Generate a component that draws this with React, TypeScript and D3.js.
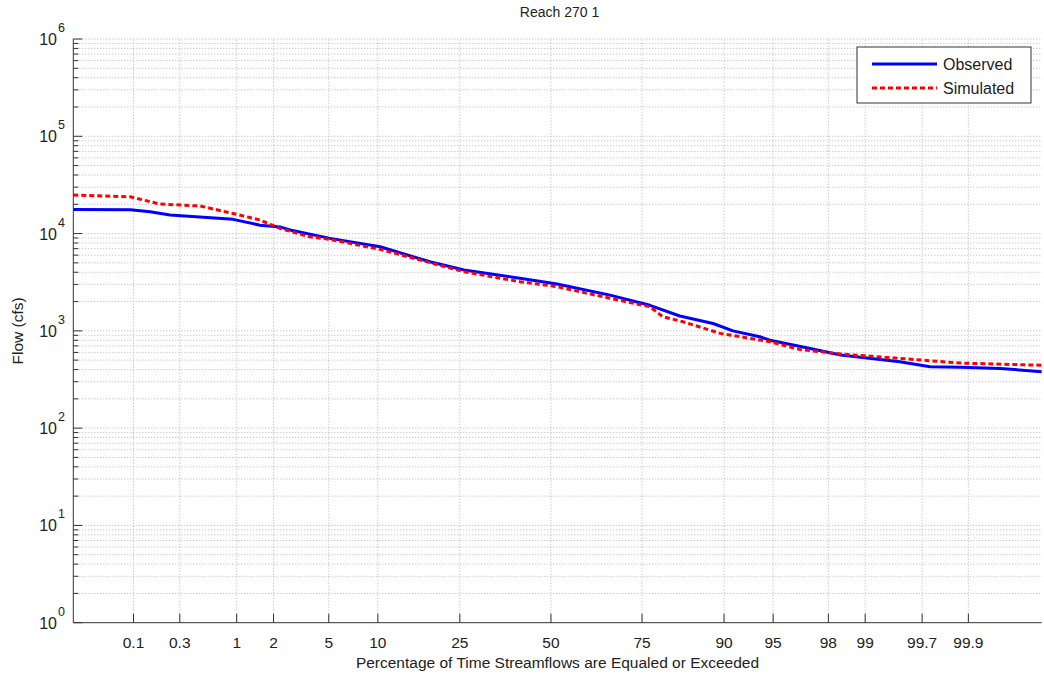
import React from 'react';
import * as d3 from 'd3';

const width = 1044;
const height = 679;
const margin = { top: 39, right: 2.3, bottom: 56.3, left: 73.3 };

// percent of time exceeded, flow (cfs)
const observedPct = [0.0203, 0.092, 0.15, 0.24, 0.93, 1.56, 2.24, 2.67, 5.1, 10.3, 18.5, 26, 40.9, 51.8, 66.9, 76.8, 83, 88.5, 91.1, 93.9, 94.75, 97.2, 98.4, 99.51, 99.75, 99.88, 99.956, 99.986];
const observedFlow = [17700, 17600, 16750, 15500, 14000, 12200, 11700, 10900, 8920, 7310, 5130, 4220, 3470, 3030, 2330, 1830, 1420, 1190, 1000, 870, 800, 661, 564, 481, 428, 422, 411, 380];

const simulatedPct = [0.0203, 0.092, 0.19, 0.47, 0.93, 1.56, 2.24, 3.7, 5.1, 10.3, 26, 40.9, 51.8, 66.9, 76.8, 79.6, 83.6, 89.5, 94.75, 96.7, 98.4, 99.51, 99.88, 99.986];
const simulatedFlow = [24900, 23900, 20100, 19200, 16100, 13800, 11300, 9270, 8700, 6880, 4050, 3200, 2850, 2160, 1770, 1400, 1240, 942, 773, 645, 578, 521, 466, 443];

const xTicks = [0.1, 0.3, 1, 2, 5, 10, 25, 50, 75, 90, 95, 98, 99, 99.7, 99.9];
const xExtent = [0.0203, 99.986];
const yExponents = [0, 1, 2, 3, 4, 5, 6];

const font = '"Liberation Sans", Arial, Helvetica, sans-serif';

// inverse of the standard normal CDF (Acklam)
function normInv(p: number): number {
  const a = [-3.969683028665376e1, 2.209460984245205e2, -2.759285104469687e2, 1.38357751867269e2, -3.066479806614716e1, 2.506628277459239];
  const b = [-5.447609879822406e1, 1.615858368580409e2, -1.556989798598866e2, 6.680131188771972e1, -1.328068155288572e1];
  const c = [-7.784894002430293e-3, -3.223964580411365e-1, -2.400758277161838, -2.549732539343734, 4.374664141464968, 2.938163982698783];
  const d = [7.784695709041462e-3, 3.224671290700398e-1, 2.445134137142996, 3.754408661907416];
  const pl = 0.02425;
  if (p < pl) {
    const q = Math.sqrt(-2 * Math.log(p));
    return (((((c[0] * q + c[1]) * q + c[2]) * q + c[3]) * q + c[4]) * q + c[5]) / ((((d[0] * q + d[1]) * q + d[2]) * q + d[3]) * q + 1);
  }
  if (p > 1 - pl) {
    const q = Math.sqrt(-2 * Math.log(1 - p));
    return -(((((c[0] * q + c[1]) * q + c[2]) * q + c[3]) * q + c[4]) * q + c[5]) / ((((d[0] * q + d[1]) * q + d[2]) * q + d[3]) * q + 1);
  }
  const q = p - 0.5;
  const r = q * q;
  return (((((a[0] * r + a[1]) * r + a[2]) * r + a[3]) * r + a[4]) * r + a[5]) * q / (((((b[0] * r + b[1]) * r + b[2]) * r + b[3]) * r + b[4]) * r + 1);
}

const zOf = (pct: number) => normInv(pct / 100);

export default function App() {
  const x0 = margin.left;
  const x1 = width - margin.right;
  const y0 = height - margin.bottom;
  const y1 = margin.top;

  const xz = d3.scaleLinear().domain(xExtent.map(zOf)).range([x0, x1]);
  const x = (pct: number) => xz(zOf(pct));
  const y = d3.scaleLog().domain([1, 1e6]).range([y0, y1]);

  const minorVals: number[] = [];
  yExponents.slice(0, -1).forEach((e) => {
    for (let m = 2; m <= 9; m++) minorVals.push(m * Math.pow(10, e));
  });

  const line = d3.line<[number, number]>().x((d) => x(d[0])).y((d) => y(d[1]));
  const obs = observedPct.map((p, i) => [p, observedFlow[i]] as [number, number]);
  const sim = simulatedPct.map((p, i) => [p, simulatedFlow[i]] as [number, number]);

  const gridStyle = { stroke: '#b5b5b5', strokeWidth: 1, strokeDasharray: '1,2' };
  const axisColor = '#333';

  return (
    <svg width={width} height={height} style={{ position: 'absolute', left: 0, top: 0, background: '#fff' }} fontFamily={font}>
      <rect x={0} y={0} width={width} height={height} fill="#fff" />
      {/* grid */}
      {minorVals.concat(yExponents.slice(1).map((e) => Math.pow(10, e))).map((v, i) => (
        <line key={'gy' + i} x1={x0} x2={x1} y1={y(v)} y2={y(v)} {...gridStyle} />
      ))}
      {xTicks.map((t, i) => (
        <line key={'gx' + i} x1={x(t)} x2={x(t)} y1={y0} y2={y1} {...gridStyle} />
      ))}

      {/* series */}
      <path d={line(obs) || ''} fill="none" stroke="#0000ff" strokeWidth={3} strokeLinejoin="round" />
      <path d={line(sim) || ''} fill="none" stroke="#ff0000" strokeWidth={3} strokeDasharray="5,3" />

      {/* axes */}
      <line x1={x0} x2={x1} y1={y0} y2={y0} stroke={axisColor} strokeWidth={1} />
      <line x1={x0} x2={x0} y1={y0} y2={y1} stroke={axisColor} strokeWidth={1} />
      {xTicks.map((t, i) => (
        <g key={'xt' + i}>
          <line x1={x(t)} x2={x(t)} y1={y0} y2={y0 - 9} stroke={axisColor} />
          <text x={x(t)} y={y0 + 25} textAnchor="middle" fontSize={15.5} fill="#222">{t}</text>
        </g>
      ))}
      {minorVals.map((v, i) => (
        <line key={'ymt' + i} x1={x0} x2={x0 + 5} y1={y(v)} y2={y(v)} stroke={axisColor} />
      ))}
      {yExponents.map((e) => (
        <g key={'yt' + e}>
          <line x1={x0} x2={x0 + 9} y1={y(Math.pow(10, e))} y2={y(Math.pow(10, e))} stroke={axisColor} />
          <text x={57} y={y(Math.pow(10, e)) + 6} textAnchor="end" fontSize={16} fill="#222">10</text>
          <text x={58} y={y(Math.pow(10, e)) - 7} textAnchor="start" fontSize={12.5} fill="#222">{e}</text>
        </g>
      ))}

      {/* labels */}
      <text x={(x0 + x1) / 2 + 2} y={17} textAnchor="middle" fontSize={14} fill="#222">Reach 270 1</text>
      <text x={(x0 + x1) / 2} y={668} textAnchor="middle" fontSize={15.5} fill="#222">Percentage of Time Streamflows are Equaled or Exceeded</text>
      <text transform={`translate(23,${(y0 + y1) / 2}) rotate(-90)`} textAnchor="middle" fontSize={15.5} fill="#222">Flow (cfs)</text>

      {/* legend */}
      <g>
        <rect x={857} y={47} width={174} height={56} fill="#fff" stroke="#333" strokeWidth={1} />
        <line x1={872} x2={937} y1={64} y2={64} stroke="#0000ff" strokeWidth={3} />
        <text x={943} y={70} fontSize={16} fill="#222">Observed</text>
        <line x1={872} x2={937} y1={88} y2={88} stroke="#ff0000" strokeWidth={3} strokeDasharray="5,3" />
        <text x={943} y={94} fontSize={16} fill="#222">Simulated</text>
      </g>
    </svg>
  );
}
